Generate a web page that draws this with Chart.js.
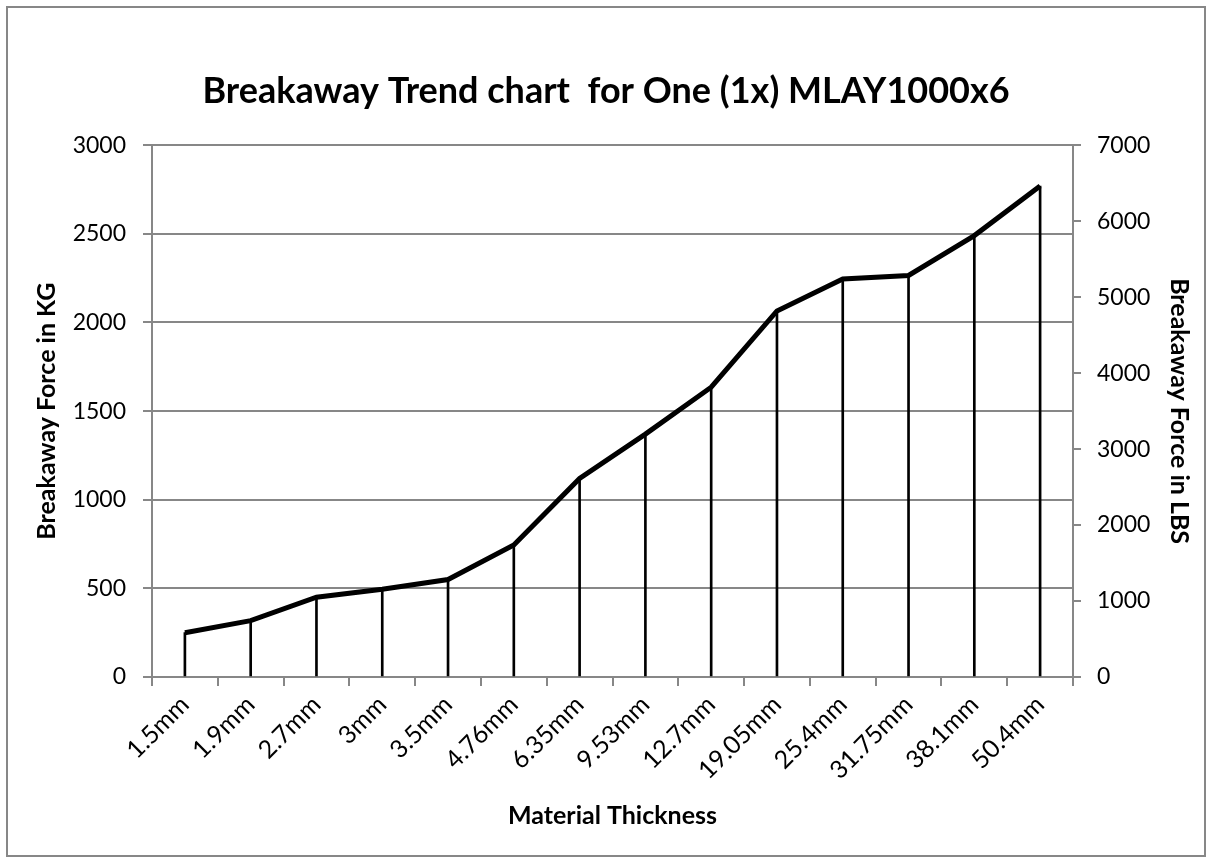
<!DOCTYPE html>
<html>
<head>
<meta charset="utf-8">
<title>Breakaway Trend chart</title>
<script src="https://cdn.jsdelivr.net/npm/chart.js@4.4.1/dist/chart.umd.min.js"></script>
<style>
  body { margin: 0; background: #fff; }
  #wrap { position: relative; width: 1212px; height: 863px; }
  #frame { position: absolute; left: 6px; top: 6px; width: 1200px; height: 851px;
           border: 2px solid #878787; box-sizing: border-box; pointer-events: none; }
</style>
</head>
<body>
<div id="wrap"><canvas id="chart"></canvas><div id="frame"></div></div>
<script>
// values
const thickness = ["1.5mm", "1.9mm", "2.7mm", "3mm", "3.5mm", "4.76mm", "6.35mm",
    "9.53mm", "12.7mm", "19.05mm", "25.4mm", "31.75mm", "38.1mm", "50.4mm"];
const forceKg = [250, 318, 450, 495, 550, 745, 1120, 1370, 1635, 2065, 2245, 2265, 2490, 2770];
const kgTicks = [0, 500, 1000, 1500, 2000, 2500, 3000];
const lbsTicks = [0, 1000, 2000, 3000, 4000, 5000, 6000, 7000];

const FONT = "Lato, 'Open Sans', sans-serif";
const GRAY = "#878787";

function plainNumber(v) { return String(v); }

function initBreakawayChart() {
    var ctx = document.getElementById('chart').getContext('2d');
    var myChart = new Chart(ctx, {
        type: "bar",
        data: {
            labels: thickness,
            datasets: [{
                type: "line",
                label: "Breakaway Force (KG)",
                data: forceKg,
                borderColor: "#000000",
                backgroundColor: "#000000",
                borderWidth: 5,
                pointRadius: 0,
                tension: 0,
                yAxisID: "y",
                order: 1
            }, {
                // thin bars stand in for Excel's drop lines
                type: "bar",
                label: "drop lines",
                data: forceKg,
                backgroundColor: "#000000",
                barThickness: 2,
                yAxisID: "y",
                order: 2
            }]
        },
        options: {
            responsive: true,
            maintainAspectRatio: false,
            animation: false,
            layout: { padding: 0 },
            plugins: {
                legend: { display: false },
                tooltip: { enabled: false },
                title: {
                    display: true,
                    text: "Breakaway Trend chart  for One (1x) MLAY1000x6",
                    color: "#000000",
                    font: { family: FONT, size: 36, weight: "bold" },
                    padding: { top: 70, bottom: 32 }
                }
            },
            scales: {
                x: {
                    offset: true,
                    grid: { offset: true, drawOnChartArea: false, color: GRAY, lineWidth: 2, tickLength: 9 },
                    border: { color: GRAY, width: 2 },
                    ticks: {
                        color: "#000000",
                        font: { family: FONT, size: 25 },
                        minRotation: 45, maxRotation: 45,
                        padding: 4
                    },
                    title: {
                        display: true,
                        text: "Material Thickness",
                        color: "#000000",
                        font: { family: FONT, size: 25, weight: "bold" },
                        padding: { top: 0, bottom: 32 }
                    },
                    afterFit: function (scale) { scale.height = 186; }
                },
                y: {
                    position: "left",
                    min: kgTicks[0],
                    max: kgTicks[kgTicks.length - 1],
                    grid: { color: GRAY, lineWidth: 2, tickLength: 9 },
                    border: { color: GRAY, width: 2 },
                    ticks: {
                        stepSize: kgTicks[1] - kgTicks[0],
                        callback: plainNumber,
                        color: "#000000",
                        font: { family: FONT, size: 23 },
                        padding: 17
                    },
                    title: {
                        display: true,
                        text: "Breakaway Force in KG",
                        color: "#000000",
                        font: { family: FONT, size: 25, weight: "bold" },
                        padding: { top: 32, bottom: 0 }
                    },
                    afterFit: function (scale) { scale.width = 152; }
                },
                y1: {
                    position: "right",
                    min: lbsTicks[0],
                    max: lbsTicks[lbsTicks.length - 1],
                    grid: { drawOnChartArea: false, color: GRAY, lineWidth: 2, tickLength: 8 },
                    border: { color: GRAY, width: 2 },
                    ticks: {
                        stepSize: lbsTicks[1] - lbsTicks[0],
                        callback: plainNumber,
                        color: "#000000",
                        font: { family: FONT, size: 23 },
                        padding: 16
                    },
                    title: {
                        display: true,
                        text: "Breakaway Force in LBS",
                        color: "#000000",
                        font: { family: FONT, size: 25, weight: "bold" },
                        padding: { top: 18, bottom: 0 }
                    },
                    afterFit: function (scale) { scale.width = 139; }
                }
            }
        }
    });
}
initBreakawayChart();
</script>
</body>
</html>
